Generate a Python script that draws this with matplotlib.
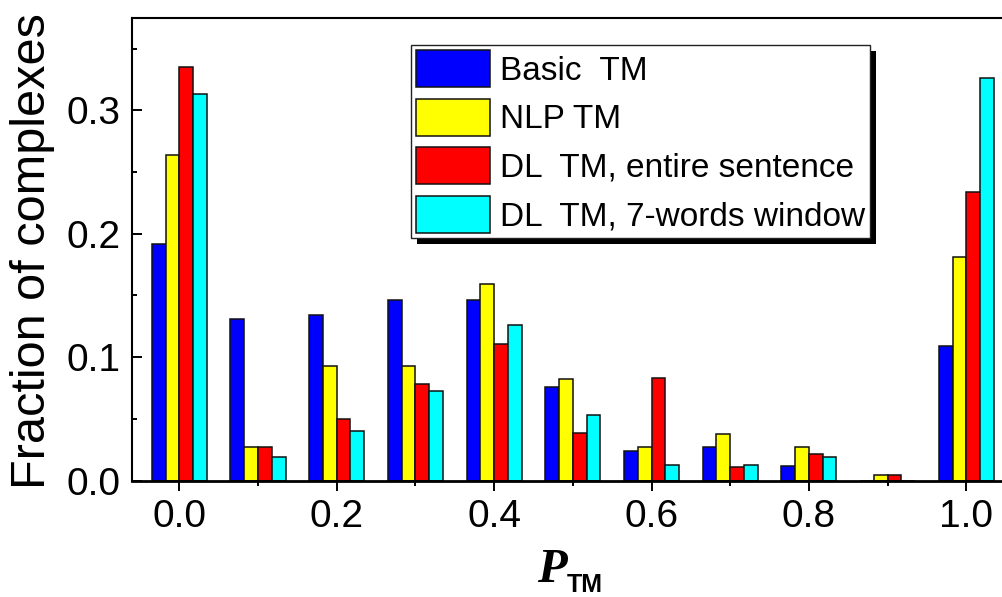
import matplotlib
matplotlib.use("Agg")
import matplotlib.pyplot as plt
import numpy as np
from matplotlib.patches import Rectangle
from matplotlib.transforms import IdentityTransform
from matplotlib.ticker import MultipleLocator, FormatStrFormatter, FixedLocator

plt.rcParams['font.family'] = ['Liberation Sans', 'DejaVu Sans']

# ---- data ----
p_tm = [0.0, 0.1, 0.2, 0.3, 0.4, 0.5, 0.6, 0.7, 0.8, 0.9, 1.0]
basic_tm = [0.192, 0.131, 0.134, 0.146, 0.146, 0.076, 0.024, 0.027, 0.012, 0.0, 0.109]
nlp_tm = [0.264, 0.027, 0.093, 0.093, 0.159, 0.082, 0.027, 0.038, 0.027, 0.005, 0.181]
dl_sentence = [0.335, 0.027, 0.050, 0.078, 0.111, 0.039, 0.083, 0.011, 0.022, 0.005, 0.234]
dl_window = [0.313, 0.019, 0.040, 0.073, 0.126, 0.053, 0.013, 0.013, 0.019, 0.0, 0.326]
series_labels = ["Basic  TM", "NLP TM", "DL  TM, entire sentence", "DL  TM, 7-words window"]
series_colors = ["#0000FF", "#FFFF00", "#FF0000", "#00FFFF"]

W, H = 1003, 597
fig = plt.figure(figsize=(W / 100, H / 100), dpi=100)
ax = fig.add_axes([132 / W, (H - 480.7) / H, (W - 132) / W, (480.7 - 18) / H])

x = np.array(p_tm)
bw = 0.0175
all_series = [basic_tm, nlp_tm, dl_sentence, dl_window]
for i, (vals, lab, col) in enumerate(zip(all_series, series_labels, series_colors)):
    ax.bar(x + (i - 1.5) * bw, vals, width=bw, color=col, edgecolor='#111111',
           linewidth=1.1, label=lab, zorder=2)

ax.set_xlim(-0.0601, 1.0466)
ax.set_ylim(0, 0.3747)

ax.xaxis.set_major_locator(FixedLocator([0.0, 0.2, 0.4, 0.6, 0.8, 1.0]))
ax.xaxis.set_minor_locator(FixedLocator([0.1, 0.3, 0.5, 0.7, 0.9]))
ax.xaxis.set_major_formatter(FormatStrFormatter('%.1f'))
ax.yaxis.set_major_locator(MultipleLocator(0.1))
ax.yaxis.set_minor_locator(MultipleLocator(0.05))
ax.yaxis.set_major_formatter(FormatStrFormatter('%.1f'))

ax.tick_params(axis='x', which='major', direction='out', length=7, width=1.4,
               labelsize=28, pad=6)
ax.tick_params(axis='x', which='minor', direction='out', length=3.5, width=1.4)
ax.tick_params(axis='y', which='major', direction='in', length=7, width=1.4,
               labelsize=28, pad=8)
ax.tick_params(axis='y', which='minor', direction='in', length=3.5, width=1.4)

for s in ['left', 'top']:
    ax.spines[s].set_linewidth(1.5)
ax.spines['bottom'].set_linewidth(2.0)
ax.spines['right'].set_visible(False)

# axis labels
fig.text(33 / W, 1 - 251 / H, "Fraction of complexes", rotation=90,
         ha='center', va='center', fontsize=35)
fig.text(537 / W, 1 - 582 / H, "P", fontfamily='Liberation Serif', fontweight='bold',
         fontstyle='italic', fontsize=35, ha='left', va='baseline')
fig.text(567 / W, 0.0, "TM", fontweight='bold', fontsize=18,
         ha='left', va='bottom')

leg = ax.legend(loc='upper left', bbox_to_anchor=(411 / W, 1 - 45 / H),
                bbox_transform=fig.transFigure, borderaxespad=0, fontsize=24,
                handlelength=2.22, handleheight=1.33, labelspacing=0.35,
                handletextpad=0.3, borderpad=0.15, fancybox=False,
                framealpha=1, edgecolor='#222222')
leg.get_frame().set_linewidth(1.0)
leg.set_zorder(5)

fig.canvas.draw()
bb = leg.get_window_extent()
shadow = Rectangle((bb.x0 + 6, bb.y0 - 6), bb.width, bb.height,
                   transform=IdentityTransform(), facecolor='black',
                   edgecolor='none', zorder=4.5)
ax.add_artist(shadow)
shadow.set_clip_on(False)

fig.savefig("out.png", dpi=100)
